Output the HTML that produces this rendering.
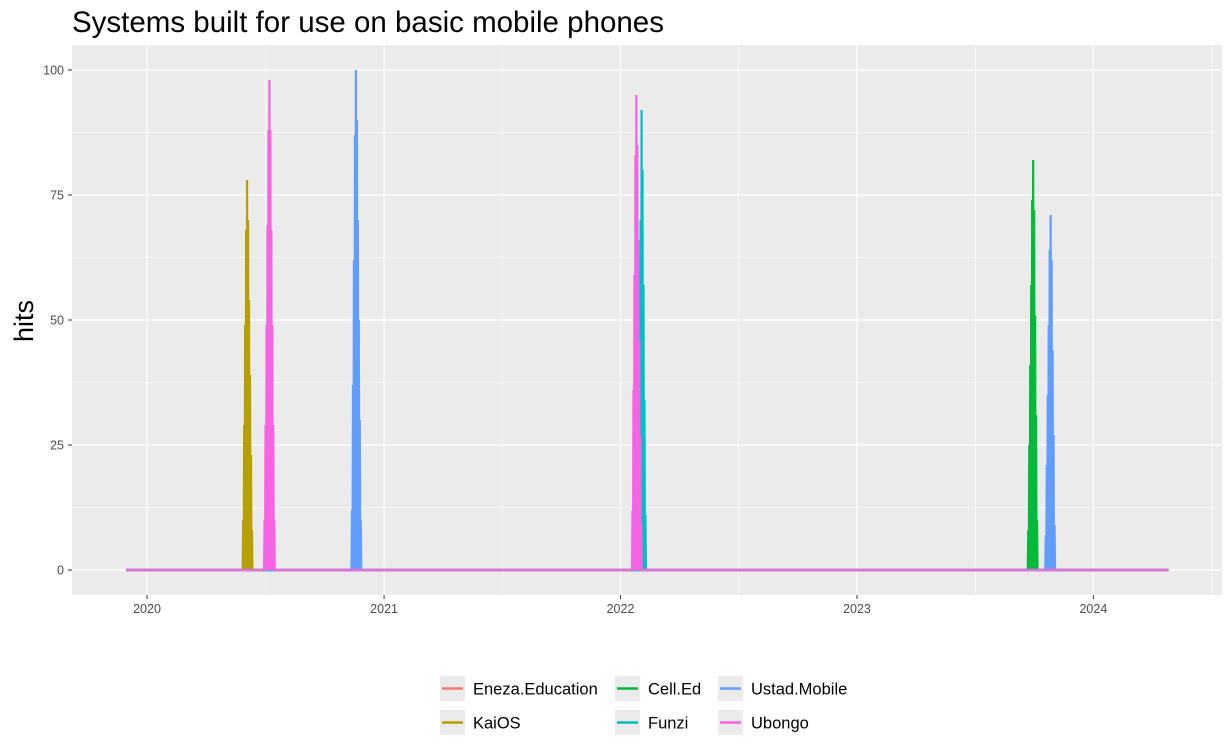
<!DOCTYPE html>
<html><head><meta charset="utf-8"><style>
body{margin:0;background:#fff;font-family:"Liberation Sans",Arial,sans-serif}
svg text{font-family:"Liberation Sans",Arial,sans-serif}
</style></head><body>
<svg id="c" width="1231" height="751" xmlns="http://www.w3.org/2000/svg">
<text x="72" y="32" font-size="29.5" fill="#000">Systems built for use on basic mobile phones</text>
<rect x="72" y="45" width="1150" height="550" fill="#ebebeb"/>
<g id="grid"></g>
<g id="axes"></g>
<g id="lines"></g>
<text transform="translate(33,321) rotate(-90)" text-anchor="middle" font-size="27" fill="#000">hits</text>
<g id="legend"></g>
</svg>
<script>
const seriesNames=["Eneza.Education","KaiOS","Cell.Ed","Funzi","Ustad.Mobile","Ubongo"];
const seriesColors=["#F8766D","#B79F00","#00BA38","#00BFC4","#619CFF","#F564E3"];
const rangeStartDay=-32, rangeEndDay=1577; // days since 2020-01-01
const yTicks=[0,25,50,75,100];
const xTickYears=[2020,2021,2022,2023,2024];
const spikeStep=1.5;
// spikes: [seriesIndex, startDay, values]
const kaiosSpike=[1,147,[0,10,29,49,68,78,70,54,39,23,8,0]];
const ubongoSpike1=[5,180,[0,10,29,49,69,88,98,88,68,49,29,10,0]];
const ustadSpike1=[4,315,[0,12,37,62,87,100,90,70,50,30,10,0]];
const ubongoSpike2=[5,748,[0,12,36,59,83,95,85,66,46,27,9,0]];
const funziSpike=[3,756,[0,9,28,46,70,92,80,57,34,11,0]];
const celledSpike=[2,1359,[0,8,25,41,57,74,82,72,51,31,10,0]];
const ustadSpike2=[4,1386,[0,7,21,35,49,64,71,62,44,27,9,0]];
const spikes=[kaiosSpike,ubongoSpike1,ustadSpike1,ubongoSpike2,funziSpike,celledSpike,ustadSpike2];

const NS="http://www.w3.org/2000/svg";
const L=72,R=1222,T=45,B=595;
const yearDay=y=>(Date.UTC(y,0,1)-Date.UTC(2020,0,1))/864e5;
const xs=d=>147+d*(236.6/365.25);
const ys=v=>570-v*5;
function mk(tag,attrs,parent){const e=document.createElementNS(NS,tag);for(const k in attrs)e.setAttribute(k,attrs[k]);parent.appendChild(e);return e;}
const grid=document.getElementById('grid'),axes=document.getElementById('axes'),lines=document.getElementById('lines'),leg=document.getElementById('legend');
for(let i=0;i<yTicks.length-1;i++){const v=(yTicks[i]+yTicks[i+1])/2;const e=mk('line',{x1:L,x2:R,y1:ys(v),y2:ys(v),stroke:'#fff','stroke-width':0.6},grid);
}
for(let y=2019;y<=2024;y++){const d=(yearDay(y)+yearDay(y+1))/2;const x=xs(d);if(x<L||x>R)continue;const e=mk('line',{x1:x,x2:x,y1:T,y2:B,stroke:'#fff','stroke-width':0.6},grid);
}
yTicks.forEach(v=>{const e=mk('line',{x1:L,x2:R,y1:ys(v),y2:ys(v),stroke:'#fff','stroke-width':1.2},grid);

const t=mk('text',{x:64,y:ys(v)+4.5,'text-anchor':'end','font-size':12.5,fill:'#4d4d4d'},axes);t.textContent=v;

mk('line',{x1:68,x2:72,y1:ys(v),y2:ys(v),stroke:'#333','stroke-width':1},axes);});
xTickYears.forEach(y=>{const x=xs(yearDay(y));const e=mk('line',{x1:x,x2:x,y1:T,y2:B,stroke:'#fff','stroke-width':1.2},grid);

const t=mk('text',{x:x,y:613,'text-anchor':'middle','font-size':12.5,fill:'#4d4d4d'},axes);t.textContent=y;

mk('line',{x1:x,x2:x,y1:595,y2:599,stroke:'#333','stroke-width':1},axes);});
seriesNames.forEach((name,si)=>{
 const pts=[[rangeStartDay,0]];
 spikes.filter(s=>s[0]===si).sort((a,b)=>a[1]-b[1]).forEach(s=>{s[2].forEach((v,i)=>{pts.push([s[1]+i*spikeStep,v]);pts.push([s[1]+(i+0.5)*spikeStep,0]);});});
 pts.push([rangeEndDay,0]);
 const p=mk('polyline',{points:pts.map(q=>xs(q[0]).toFixed(2)+','+ys(q[1]).toFixed(2)).join(' '),fill:'none',stroke:seriesColors[si],'stroke-width':2.2,'stroke-linejoin':'miter','stroke-miterlimit':1},lines);
 
 
});
const legPos=[[440,676],[440,710],[615,676],[615,710],[718,676],[718,710]];
seriesNames.forEach((name,i)=>{const [x,y]=legPos[i];
 const g=mk('g',{},leg);
 mk('rect',{x:x,y:y,width:25,height:25,fill:'#ebebeb'},g);
 mk('line',{x1:x+2,x2:x+23,y1:y+12.5,y2:y+12.5,stroke:seriesColors[i],'stroke-width':2.5},g);
 const t=mk('text',{x:x+33,y:y+18.5,'font-size':16.5,fill:'#000'},g);t.textContent=name;});
</script>
</body></html>
